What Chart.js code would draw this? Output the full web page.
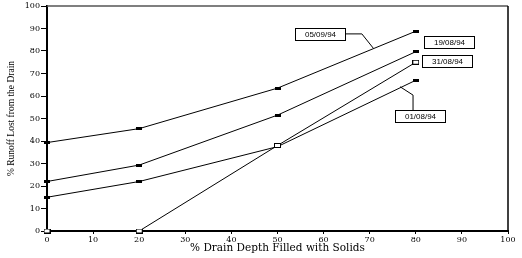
<!DOCTYPE html>
<html>
<head>
<meta charset="utf-8">
<script src="https://cdn.jsdelivr.net/npm/chart.js@4/dist/chart.umd.min.js"></script>
<style>
  html, body { margin: 0; padding: 0; background: #fff; }
  #wrap { width: 522px; height: 258px; }
</style>
</head>
<body>
<div id="wrap"><canvas id="chart" width="522" height="258"></canvas></div>
<script>
// % drain depth filled with solids
const depthFilled = [0, 20, 50, 80];
// % runoff lost, one array per sampling date
const run050994 = [39.3, 45.5, 63.5, 88.8];
const run190894 = [22, 29.3, 51.5, 79.7];
const run310894 = [0, 0, 38, 75];
const run010894 = [15, 22, 37.5, 67];
const seriesNames = ['05/09/94', '19/08/94', '31/08/94', '01/08/94'];

// small dash-like markers
function makeMarker(w, h, open) {
    const c = document.createElement('canvas');
    c.width = w; c.height = h;
    const g = c.getContext('2d');
    g.fillStyle = '#000';
    g.fillRect(0, 0, w, h);
    if (open) {
        g.fillStyle = '#fff';
        g.fillRect(1, 1, w - 2, h - 2);
    }
    return c;
}
const solidMark = makeMarker(6, 3, false);
const openMark = makeMarker(7, 5, true);

function series(label, values, marker) {
    return {
        label: label,
        data: depthFilled.map((x, i) => ({ x: x, y: values[i] })),
        borderColor: '#000',
        borderWidth: 1,
        pointStyle: marker,
        pointRadius: 3,
        pointHoverRadius: 3,
        fill: false,
        clip: false,
        tension: 0
    };
}

// callout boxes, placed in data units
const callouts = [
    { text: seriesNames[0], x: 59.3, y: 87.6, leader: [[64.6, 87.6], [68.3, 87.6], [70.8, 81.2]] },
    { text: seriesNames[1], x: 87.2, y: 84.2, leader: [] },
    { text: seriesNames[2], x: 86.8, y: 75.6, leader: [] },
    { text: seriesNames[3], x: 80.9, y: 50.9, leader: [[79.4, 53.3], [79.4, 60.4], [76.6, 64.1]] }
];

const framePlugin = {
    id: 'frame',
    afterDraw(chart) {
        const { ctx, chartArea: a, scales } = chart;
        const xs = scales.x, ys = scales.y;
        ctx.save();
        // top and right edges of the frame
        ctx.strokeStyle = '#555';
        ctx.lineWidth = 1.5;
        ctx.beginPath();
        ctx.moveTo(a.left, a.top);
        ctx.lineTo(a.right, a.top);
        ctx.stroke();
        ctx.strokeStyle = '#000';
        ctx.beginPath();
        ctx.moveTo(a.right, a.top);
        ctx.lineTo(a.right, a.bottom);
        ctx.stroke();

        ctx.lineWidth = 1;
        ctx.font = '8px "Liberation Sans", Arial, sans-serif';
        ctx.textAlign = 'center';
        ctx.textBaseline = 'middle';
        callouts.forEach(c => {
            if (c.leader.length) {
                ctx.beginPath();
                c.leader.forEach((p, i) => {
                    const px = xs.getPixelForValue(p[0]);
                    const py = ys.getPixelForValue(p[1]);
                    if (i === 0) ctx.moveTo(px, py); else ctx.lineTo(px, py);
                });
                ctx.stroke();
            }
            const cx = Math.round(xs.getPixelForValue(c.x));
            const cy = Math.round(ys.getPixelForValue(c.y));
            const w = 50, h = 12;
            ctx.fillStyle = '#fff';
            ctx.fillRect(cx - w / 2, cy - h / 2, w, h);
            ctx.strokeRect(cx - w / 2 + 0.5, cy - h / 2 + 0.5, w, h);
            ctx.fillStyle = '#000';
            ctx.fillText(c.text, cx + 0.5, cy + 1);
        });
        ctx.restore();
    }
};

const tickFont = { family: '"DejaVu Serif", serif', size: 8 };

new Chart(document.getElementById('chart'), {
    type: 'line',
    data: {
        datasets: [
            series(seriesNames[0], run050994, solidMark),
            series(seriesNames[1], run190894, solidMark),
            series(seriesNames[2], run310894, openMark),
            series(seriesNames[3], run010894, solidMark)
        ]
    },
    options: {
        responsive: false,
        animation: false,
        layout: { padding: { top: 6, right: 14, left: 0, bottom: 0 } },
        plugins: {
            legend: { display: false },
            tooltip: { enabled: false }
        },
        scales: {
            x: {
                type: 'linear',
                min: 0,
                max: 100,
                ticks: { stepSize: 10, color: '#000', font: tickFont, padding: 1, maxRotation: 0 },
                grid: { drawOnChartArea: false, drawTicks: true, tickLength: 3, color: '#000' },
                border: { display: true, color: '#000', width: 2 },
                title: {
                    display: true,
                    text: '% Drain Depth Filled with Solids',
                    color: '#000',
                    font: { family: '"DejaVu Serif", serif', size: 10.5 },
                    padding: { top: 0, bottom: 3 }
                },
                afterFit(scale) { scale.height = 27; }
            },
            y: {
                min: 0,
                max: 100,
                ticks: { stepSize: 10, color: '#000', font: tickFont, padding: 1 },
                grid: { drawOnChartArea: false, drawTicks: true, tickLength: 6, color: '#000' },
                border: { display: true, color: '#000', width: 2 },
                title: {
                    display: true,
                    text: '% Runoff Lost from the Drain',
                    color: '#000',
                    font: { family: '"Liberation Serif", "Times New Roman", serif', size: 9.5 },
                    padding: { top: 6, bottom: 0 }
                },
                afterFit(scale) { scale.width = 47; }
            }
        }
    },
    plugins: [framePlugin]
});
</script>
</body>
</html>
